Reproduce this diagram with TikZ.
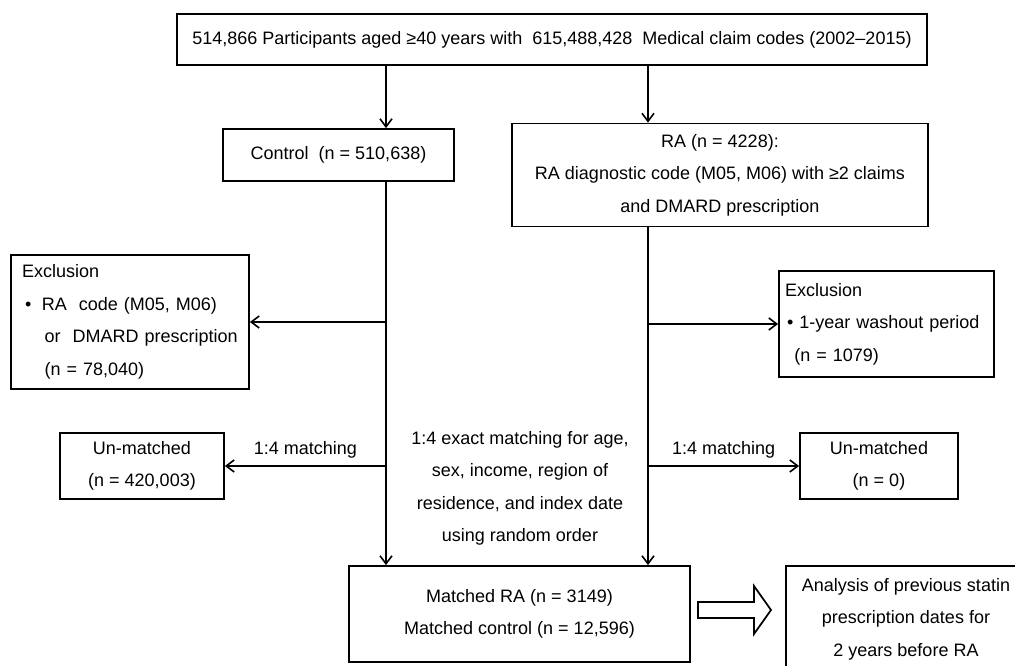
\documentclass[tikz,border=0pt]{standalone}
\usepackage{fontspec}
\setmainfont{Liberation Sans}
\usetikzlibrary{arrows.meta}

\begin{document}
\begin{tikzpicture}[
      x=0.75pt, y=-0.75pt,
      every node/.style={font=\fontsize{13.5}{24.4}\selectfont, inner sep=0pt},
      box/.style={draw, line width=1.3pt},
      arr/.style={line width=1.2pt, -{Straight Barb[length=6pt,width=9pt]}}]

        \useasboundingbox (0,0) rectangle (1015,666);
        \clip (0,0) rectangle (1015,666);

        \coordinate (lx) at (386,0);
        \coordinate (rx) at (648,0);

        \node[box, minimum width=562.5pt, minimum height=38.25pt] (all) at (552,39.5)
          {514,866 Participants aged ≥40 years with\ \ 615,488,428\ \ Medical claim codes (2002–2015)};

        % two groups
        \node[box, minimum width=173.25pt, minimum height=39pt] (ctl) at (338.5,155)
          {Control\ \ (n = 510,638)};
        \node[box, align=center, minimum width=312pt, minimum height=77.25pt] (ra) at (720,175)
          {RA (n = 4228):\\ RA diagnostic code (M05, M06) with ≥2 claims\\ and DMARD prescription};

        % exclusions
        \node[box, align=left, text width=162pt, inner xsep=8.25pt, minimum height=100.5pt] (exL) at (130,322)
          {Exclusion\\
           \hspace*{2.25pt}\textbullet\hspace{8pt}RA\ \ code (M05, M06)\\
           \hspace*{17pt}or\ \ DMARD prescription\\
           \hspace*{17pt}(n = 78,040)};
        \node[box, align=left, text width=152.25pt, inner xsep=4.5pt, minimum height=79.5pt] (exR) at (886.5,324)
          {Exclusion\\
           \hspace*{1.5pt}\textbullet\hspace{4.5pt}1-year washout period\\
           \hspace*{7pt}(n = 1079)};

        % matching
        \node[box, align=center, minimum width=123pt, minimum height=49.5pt] (unL) at (142,466)
          {Un-matched\\ (n = 420,003)};
        \node[box, align=center, minimum width=118.5pt, minimum height=49.5pt] (unR) at (879,466)
          {Un-matched\\ (n = 0)};
        \node[align=center] (mt) at (520,488.5)
          {1:4 exact matching for age,\\ sex, income, region of\\ residence, and index date\\ using random order};

        \node[box, align=center, minimum width=255.75pt, minimum height=72pt] (mat) at (519.5,614)
          {Matched RA (n = 3149)\\ Matched control (n = 12,596)};
        \node[box, align=center, minimum width=180pt, minimum height=79.5pt] (ana) at (906,619)
          {Analysis of previous statin\\ prescription dates for\\ 2 years before RA};

        % hollow arrow
        \coordinate (ha) at (698,610);
        \draw[line width=1.3pt, line join=miter] (ha) ++(0,-8) -- ++(56,0) -- ++(0,-16) -- ++(17,24)
          -- ++(-17,24) -- ++(0,-16) -- ++(-56,0) -- cycle;

        \draw[arr] (lx |- all.south) -- (lx |- ctl.north);
        \draw[arr] (rx |- all.south) -- (rx |- ra.north);
        \draw[arr] (lx |- ctl.south) -- (lx |- mat.north);
        \draw[arr] (rx |- ra.south) -- (rx |- mat.north);

        \draw[arr] (lx |- exL.east) -- (exL.east);
        \draw[arr] (rx |- exR.west) -- (exR.west);

        \draw[arr] (lx |- unL.east) -- node[above=5pt] {1:4 matching} (unL.east);
        \draw[arr] (rx |- unR.west) -- node[above=5pt] {1:4 matching} (unR.west);

      \end{tikzpicture}
\end{document}
